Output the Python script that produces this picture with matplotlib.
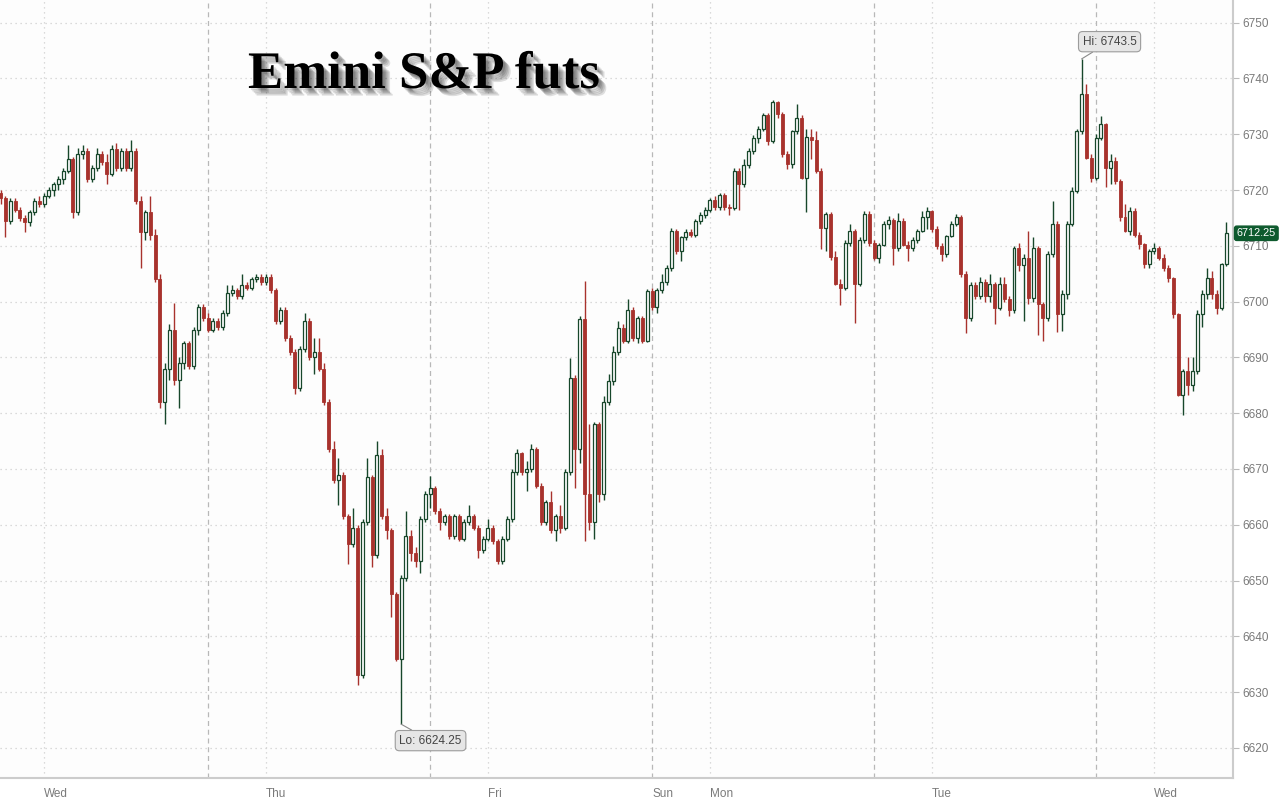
import numpy as np
import matplotlib.pyplot as plt
import matplotlib.patheffects as pe

# 30 min bars, Tue evening -> next Wed morning (daily 17:00-18:00 break dropped)
opens = [
    6719.5, 6718.5, 6714.5, 6718, 6716.5, 6715, 6714.2, 6716, 6718, 6717.5,
    6719, 6720, 6721, 6722, 6723.5, 6725.5, 6716, 6726.5, 6727, 6722,
    6724, 6726.5, 6725, 6722.8, 6727.3, 6724, 6727, 6724, 6727, 6718,
    6712.5, 6716, 6712, 6704, 6682, 6688, 6695, 6686, 6689, 6692.5,
    6688.5, 6695, 6699, 6697,
    # Wed evening session
    6695, 6696.5, 6695.5, 6698, 6701.5, 6702, 6701, 6703, 6702.5, 6704,
    6704.5, 6703.5, 6704.5, 6702, 6696.5, 6698.5, 6693.5, 6691, 6684.5, 6691.5,
    6696.5, 6690, 6691, 6688, 6682, 6673.5, 6668, 6669, 6661.5, 6656.5,
    6659.5, 6633, 6660.5, 6668.5, 6654.5, 6672.5, 6661.5, 6659, 6647.5, 6636,
    6650.5, 6658,
    # Thu evening session
    6655, 6653.5, 6661, 6665.5, 6666.5, 6662.5, 6660.5, 6661.5, 6658, 6661.5,
    6657.5, 6660.5, 6661.5, 6659.5, 6655.5, 6657.5, 6659.5, 6657, 6653.5, 6657.5,
    6661, 6669.5, 6672.8, 6669.5, 6670, 6673.5, 6667, 6660.5, 6664, 6659,
    6661.5, 6659.5, 6669.5, 6686.3, 6673.5, 6696.8, 6665.5, 6660.5, 6678, 6665.5,
    6682, 6685.7, 6691, 6695.3, 6693, 6698.5, 6693.5, 6697, 6693,
    # Sun evening session
    6701.9, 6699, 6702, 6703.5, 6706, 6712.7, 6709, 6711.5, 6712.5, 6712,
    6714.5, 6715.6, 6716.5, 6718.2, 6717, 6719.2, 6717, 6716.8, 6723.4, 6721,
    6724.5, 6727, 6729.4, 6731, 6733.4, 6728.8, 6735.8, 6733.6, 6726.4, 6724.6,
    6730.6, 6733, 6722.2, 6729.5, 6729, 6723.4, 6713.2, 6715.7, 6708, 6703.2,
    6702.5, 6710.5, 6712.7, 6703.2, 6711, 6715.7,
    # Mon evening session
    6710.5, 6707.9, 6710.2, 6713.9, 6714.6, 6709.6, 6714.5, 6710.2, 6709.6, 6711,
    6712.7, 6715.1, 6716.3, 6713, 6710, 6708.5, 6711.8, 6714, 6715.1, 6705,
    6697, 6703, 6701, 6703.5, 6701, 6703.2, 6698.8, 6703.2, 6700.5, 6698.5,
    6709.6, 6706.5, 6707.8, 6700.7, 6709.6, 6699.5, 6697, 6708.5, 6713.9, 6697.7,
    6701.3, 6713.9, 6719.9, 6730.6, 6737.2, 6725.8,
    # Tue evening session
    6722.2, 6729.4, 6731.8, 6724, 6725.2, 6721.6, 6715.1, 6712.7, 6716.3, 6712,
    6710.3, 6706.7, 6709, 6709.6, 6707.9, 6706, 6704.3, 6697.7, 6683.3, 6687.5,
    6685, 6687.5, 6697.7, 6701.3, 6704.3, 6701.3, 6698.9, 6706.7,
]
highs = [
    6720, 6719, 6718.5, 6718.5, 6717, 6715.5, 6716.5, 6718.5, 6719, 6719.5,
    6720.5, 6721.5, 6722.5, 6724, 6728, 6726, 6727.5, 6728, 6727.5, 6724.5,
    6727.5, 6727, 6726.5, 6728, 6728.5, 6727.5, 6727.5, 6729, 6727.5, 6719,
    6716.5, 6719, 6713, 6705, 6689, 6696, 6699.7, 6690, 6693, 6693,
    6695.5, 6699.5, 6699.5, 6698,
    6697, 6697, 6698.5, 6703, 6703, 6702.5, 6705, 6703.5, 6704.5, 6705,
    6705, 6705, 6705, 6702.5, 6699, 6699, 6694, 6691.5, 6692, 6698,
    6697, 6693.5, 6693.5, 6689, 6682.5, 6675, 6672, 6669.5, 6662, 6663,
    6660, 6661, 6672, 6669, 6675, 6673.5, 6663, 6659.5, 6648, 6651,
    6662.5, 6659,
    6656, 6661.5, 6666, 6668.7, 6667, 6663, 6662, 6662, 6662, 6662,
    6661, 6663.5, 6662, 6660, 6658, 6661, 6660, 6657.5, 6658, 6661.5,
    6670, 6673.5, 6673, 6671.5, 6674.5, 6674, 6667.5, 6664.5, 6666, 6662,
    6663.5, 6670, 6689.9, 6686.8, 6697.5, 6703.7, 6678, 6678.5, 6678.5, 6683,
    6687, 6692, 6696.5, 6696, 6700.4, 6699, 6697.5, 6697.5, 6702.2,
    6702.5, 6702.5, 6704.9, 6706.5, 6713.2, 6713, 6711.8, 6713, 6713, 6714.8,
    6716, 6717, 6718.5, 6719, 6719.5, 6719.5, 6717.5, 6724, 6724, 6725.5,
    6727.5, 6729.8, 6731.5, 6733.8, 6733.8, 6736.2, 6736, 6734, 6727, 6730.8,
    6735.4, 6733.5, 6731, 6731, 6730.5, 6724, 6716, 6716, 6709, 6704,
    6711, 6714, 6713, 6711.5, 6716.3, 6716.3,
    6711, 6710.5, 6714.5, 6715.3, 6715, 6715.8, 6715, 6710.8, 6711.5, 6713,
    6716.3, 6716.9, 6716.5, 6713.5, 6710.5, 6712, 6714.5, 6715.7, 6715.5, 6705.5,
    6703.5, 6703.5, 6704.5, 6704, 6705, 6703.5, 6704.5, 6704.5, 6701, 6710,
    6710.5, 6708.5, 6712.7, 6711.5, 6710, 6700, 6709, 6718.1, 6714.5, 6702,
    6714.5, 6720.5, 6731, 6743.5, 6739, 6726.5,
    6730, 6733.3, 6732, 6726.5, 6726, 6722, 6717.5, 6717, 6716.8, 6712.5,
    6710.5, 6709.5, 6710.5, 6710, 6708.5, 6706.5, 6704.5, 6698, 6688, 6690,
    6690, 6698.5, 6702, 6706, 6705.5, 6702, 6707, 6714.2,
]
lows = [
    6717.5, 6711.5, 6714, 6716, 6714.5, 6712.5, 6713.5, 6715.5, 6717, 6717,
    6718.5, 6719, 6720, 6721, 6723, 6715, 6715.5, 6725.5, 6721.5, 6721.5,
    6723.5, 6724.5, 6721, 6722.5, 6723.5, 6723.5, 6723.5, 6723.5, 6717.5, 6706,
    6711, 6711, 6703.5, 6681, 6678, 6686, 6685, 6681, 6688, 6688,
    6688, 6694, 6696.5, 6694.5,
    6694.5, 6695, 6695, 6697.5, 6701, 6700.5, 6700.5, 6702, 6702, 6703.5,
    6703, 6703, 6701.5, 6696, 6696, 6693, 6690.5, 6683.5, 6684, 6691,
    6689.5, 6687, 6687.5, 6681.5, 6673, 6667.5, 6663.5, 6661, 6653, 6656,
    6631.3, 6632.5, 6660, 6652.5, 6654, 6661, 6657.5, 6643.5, 6635.5, 6624.25,
    6650, 6653.5,
    6652.5, 6651.3, 6660.5, 6663, 6662, 6659, 6660, 6657.5, 6657.5, 6657,
    6657, 6660, 6659, 6654, 6655, 6657, 6656.5, 6653, 6653, 6657,
    6660.5, 6669, 6669, 6666, 6669.5, 6666.5, 6660, 6660, 6658.5, 6657,
    6658.5, 6659, 6669, 6666.5, 6671, 6657, 6659, 6657.5, 6664, 6664.5,
    6681.5, 6685, 6690.5, 6692.5, 6692.5, 6693, 6692.5, 6692.5, 6692.8,
    6698.5, 6698, 6701.5, 6703, 6705.5, 6708.5, 6707.3, 6711, 6711.5, 6711.5,
    6714, 6715, 6716, 6716.5, 6716.5, 6716.5, 6715.6, 6716.5, 6716.5, 6720.5,
    6724, 6726.5, 6728.5, 6730.5, 6728, 6728.5, 6733, 6726, 6723.8, 6724,
    6730, 6722, 6716, 6725.5, 6723, 6709.5, 6709, 6707.5, 6703, 6699.4,
    6702, 6710, 6696.2, 6702.8, 6710.5, 6710,
    6707.5, 6707, 6710, 6713, 6706.5, 6709, 6710, 6707.3, 6709, 6710.5,
    6712.5, 6713, 6712.5, 6709.5, 6707.3, 6708, 6711.5, 6713.5, 6704.5, 6694.4,
    6696.5, 6700.5, 6700.5, 6700, 6700, 6695.9, 6698.5, 6700, 6697.5, 6698,
    6705.5, 6696.5, 6699.5, 6700, 6694, 6693, 6696.5, 6708, 6694.5, 6694.7,
    6700.5, 6713.5, 6719.5, 6730, 6725.5, 6721.5,
    6721.8, 6729, 6720.5, 6721, 6721, 6714.5, 6712.5, 6712, 6711.5, 6709.5,
    6706, 6706, 6708.5, 6707.5, 6705.5, 6703.5, 6697, 6683, 6679.7, 6683.3,
    6684, 6687, 6695.5, 6700.5, 6700.5, 6697.8, 6698.5, 6706.3,
]
closes = [
    6718.5, 6714.5, 6718, 6716.5, 6715, 6714.2, 6716, 6718, 6717.5, 6719,
    6720, 6721, 6722, 6723.5, 6725.5, 6716, 6726.5, 6727, 6722, 6724,
    6726.5, 6725, 6722.8, 6727.3, 6724, 6727, 6724, 6727, 6718, 6712.5,
    6716, 6712, 6704, 6682, 6688, 6695, 6686, 6689, 6692.5, 6688.5,
    6695, 6699, 6697, 6695,
    6696.5, 6695.5, 6698, 6701.5, 6702, 6701, 6703, 6702.5, 6704, 6704.5,
    6703.5, 6704.5, 6702, 6696.5, 6698.5, 6693.5, 6691, 6684.5, 6691.5, 6696.5,
    6690, 6691, 6688, 6682, 6673.5, 6668, 6669, 6661.5, 6656.5, 6659.5,
    6633, 6660.5, 6668.5, 6654.5, 6672.5, 6661.5, 6659, 6647.5, 6636, 6650.5,
    6658, 6655,
    6653.5, 6661, 6665.5, 6666.5, 6662.5, 6660.5, 6661.5, 6658, 6661.5, 6657.5,
    6660.5, 6661.5, 6659.5, 6655.5, 6657.5, 6659.5, 6657, 6653.5, 6657.5, 6661,
    6669.5, 6672.8, 6669.5, 6670, 6673.5, 6667, 6660.5, 6664, 6659, 6661.5,
    6659.5, 6669.5, 6686.3, 6673.5, 6696.8, 6665.5, 6660.5, 6678, 6665.5, 6682,
    6685.7, 6691, 6695.3, 6693, 6698.5, 6693.5, 6697, 6693, 6701.9,
    6699, 6702, 6703.5, 6706, 6712.7, 6709, 6711.5, 6712.5, 6712, 6714.5,
    6715.6, 6716.5, 6718.2, 6717, 6719.2, 6717, 6716.8, 6723.4, 6721, 6724.5,
    6727, 6729.4, 6731, 6733.4, 6728.8, 6735.8, 6733.6, 6726.4, 6724.6, 6730.6,
    6733, 6722.2, 6729.5, 6729, 6723.4, 6713.2, 6715.7, 6708, 6703.2, 6702.5,
    6710.5, 6712.7, 6703.2, 6711, 6715.7, 6710.5,
    6707.9, 6710.2, 6713.9, 6714.6, 6709.6, 6714.5, 6710.2, 6709.6, 6711, 6712.7,
    6715.1, 6716.3, 6713, 6710, 6708.5, 6711.8, 6714, 6715.1, 6705, 6697,
    6703, 6701, 6703.5, 6701, 6703.2, 6698.8, 6703.2, 6700.5, 6698.5, 6709.6,
    6706.5, 6707.8, 6700.7, 6709.6, 6699.5, 6697, 6708.5, 6713.9, 6697.7, 6701.3,
    6713.9, 6719.9, 6730.6, 6737.2, 6725.8, 6722.2,
    6729.4, 6731.8, 6724, 6725.2, 6721.6, 6715.1, 6712.7, 6716.3, 6712, 6710.3,
    6706.7, 6709, 6709.6, 6707.9, 6706, 6704.3, 6697.7, 6683.3, 6687.5, 6685,
    6687.5, 6697.7, 6701.3, 6704.3, 6701.3, 6698.9, 6706.7, 6712.25,
]

# bar index of the day labels / grid lines
day_pos = [9, 55, 101, 135, 147, 193, 239]
day_labels = ['Wed', 'Thu', 'Fri', 'Sun', 'Mon', 'Tue', 'Wed']
midnight_pos = [9, 55, 101, 147, 193, 239]
session_pos = [43, 89, 135, 181, 227]
y_ticks = list(range(6620, 6751, 10))

GREEN = '#17472b'
RED = '#a8322d'
GRID = '#cfcfcf'
TXT = '#7a7a7a'
SANS = ['Liberation Sans', 'DejaVu Sans']

o = np.array(opens)
h = np.array(highs)
l = np.array(lows)
c = np.array(closes)
x = np.arange(len(c))
up = c >= o

fig = plt.figure(figsize=(12.8, 8.01), dpi=100)
ax = fig.add_axes([0, 1 - 778 / 801, 1233 / 1280, 778 / 801])
ax.set_facecolor('#fdfdfd')

# grid
for yv in y_ticks:
    ax.axhline(yv, color=GRID, lw=0.9, dashes=(1, 3), zorder=0)
for xv in midnight_pos:
    ax.axvline(xv, color=GRID, lw=0.9, dashes=(1, 3), zorder=0)
for xv in session_pos:
    ax.axvline(xv, color='#b8b8b8', lw=0.9, dashes=(4, 3), zorder=0)

# candles
ax.vlines(x[up], l[up], h[up], color=GREEN, lw=1.0, zorder=2)
ax.vlines(x[~up], l[~up], h[~up], color=RED, lw=1.0, zorder=2)
body = np.maximum(np.abs(c - o), 0.2)
bottom = np.minimum(o, c)
ax.bar(x[up], body[up], bottom=bottom[up], width=0.62, facecolor='white',
       edgecolor=GREEN, linewidth=0.9, zorder=3)
ax.bar(x[~up], body[~up], bottom=bottom[~up], width=0.62, facecolor=RED,
       edgecolor=RED, linewidth=0.6, zorder=3)

ax.set_xlim(-0.12, 255.38)
ax.set_ylim(6614.6, 6754.07)

# axes styling
for s in ['top', 'left']:
    ax.spines[s].set_visible(False)
for s in ['right', 'bottom']:
    ax.spines[s].set_color('#cccccc')
    ax.spines[s].set_linewidth(1.5)
ax.yaxis.tick_right()
ax.set_yticks(y_ticks)
ax.tick_params(axis='y', colors='#bbbbbb', labelcolor=TXT, labelsize=8.5, length=4, pad=3)
ax.set_xticks(day_pos)
ax.set_xticklabels(day_labels)
ax.tick_params(axis='x', length=0, labelcolor=TXT, labelsize=8.5, pad=7)
for lab in ax.get_xticklabels():
    lab.set_horizontalalignment('left')
    lab.set_family(SANS)
for lab in ax.get_yticklabels():
    lab.set_family(SANS)

# hi / lo callouts
box = dict(boxstyle='round,pad=0.35', fc='#e6e6e6', ec='#9c9c9c', lw=0.8)
line = dict(arrowstyle='-', color='#8a8a8a', lw=0.8, shrinkA=0, shrinkB=0)
i_hi = int(np.argmax(h))
i_lo = int(np.argmin(l))
ax.annotate(f'Hi: {h[i_hi]:g}', xy=(i_hi, h[i_hi]), xytext=(i_hi + 5.8, 6746.6),
            ha='center', va='center', fontsize=8.5, color='#444444', family=SANS,
            bbox=box, arrowprops=line, zorder=5)
ax.annotate(f'Lo: {l[i_lo]:g}', xy=(i_lo, l[i_lo]), xytext=(i_lo + 6.1, 6621.3),
            ha='center', va='center', fontsize=8.5, color='#444444', family=SANS,
            bbox=box, arrowprops=line, zorder=5)

# last price tag
ax.text(1.003, c[-1], f'{c[-1]:.2f}', transform=ax.get_yaxis_transform(),
        ha='left', va='center', fontsize=7.8, color='white', family=SANS,
        bbox=dict(boxstyle='round,pad=0.2', fc='#0e5a2e', ec='#0e5a2e'),
        clip_on=False, zorder=6)

# title with soft shadow
shadow = [pe.SimplePatchShadow(offset=(d, -d), shadow_rgbFace='black', alpha=0.12)
          for d in (1.5, 2.5, 3.5, 4.5, 5.5)]
fig.text(248 / 1280, 1 - 88 / 801, 'Emini S&P futs', fontsize=38, fontweight='bold',
         family=['Liberation Serif', 'DejaVu Serif'], color='black',
         ha='left', va='baseline', path_effects=shadow + [pe.Normal()])

fig.savefig('out.png', dpi=100, facecolor='white')
